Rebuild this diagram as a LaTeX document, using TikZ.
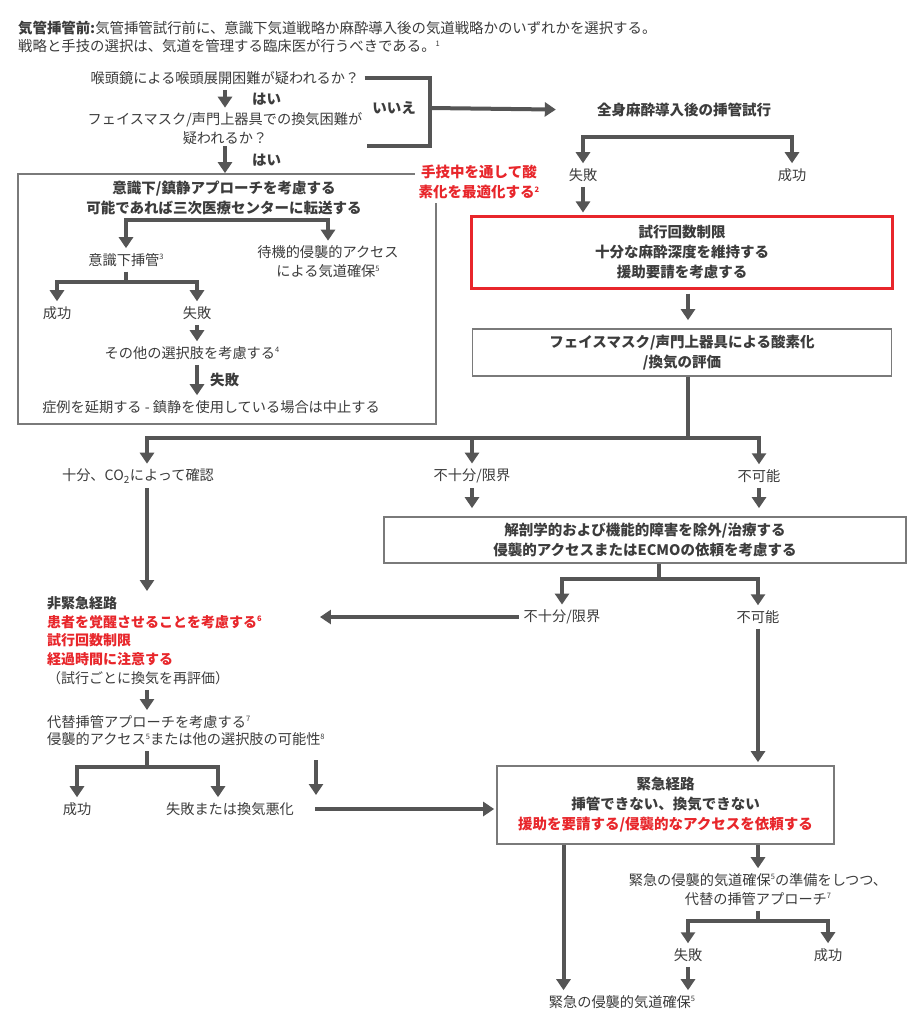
\documentclass[tikz,border=0pt]{standalone}
\usepackage{fontspec}
\setmainfont{Noto Sans CJK JP}
\usetikzlibrary{arrows.meta,positioning}
\definecolor{ink}{HTML}{3C3C3C}
\definecolor{wirecol}{HTML}{555555}
\definecolor{framecol}{HTML}{7A7A7A}
\definecolor{alert}{HTML}{E8262B}
\newcommand{\refno}[1]{\raisebox{5.5pt}{\fontsize{7.5}{8}\selectfont#1}}

\begin{document}
\begin{tikzpicture}[
        x=1pt, y=1pt,
        txt/.style={font=\fontsize{14.2}{19}\selectfont, text=ink, inner xsep=5pt, inner ysep=5pt, align=center},
        btxt/.style={txt, font=\fontsize{14.5}{20}\selectfont\bfseries},
        lbl/.style={btxt, inner sep=0pt},
        box/.style={draw=framecol, line width=1.7pt},
        wire/.style={draw=wirecol, line width=4pt},
        arr/.style={wire, -{Triangle[width=14pt,length=11pt]}},
    ]
        \fill[white] (0,0) rectangle (922,-1024);
        \useasboundingbox (0,0) rectangle (922,-1024);

        \node[txt, anchor=north west, align=left, font=\fontsize{14.4}{18}\selectfont] (hdr) at (13,-16)
            {\textbf{気管挿管前:}気管挿管試行前に、意識下気道戦略か麻酔導入後の気道戦略かのいずれかを選択する。\\戦略と手技の選択は、気道を管理する臨床医が行うべきである。\refno{1}};

        \node[txt] (q1) at (225,-78) {喉頭鏡による喉頭展開困難が疑われるか？};
        \node[txt] (q2) at (225,-129) {フェイスマスク/声門上器具での換気困難が\\疑われるか？};
        \node[btxt] (ga) at (684,-110) {全身麻酔導入後の挿管試行};
        \node[btxt] (no) at (394,-108) {いいえ};
        \coordinate (brk) at (430,-108);

        \node[box, minimum width=418pt, minimum height=250pt] (awbox) at (227,-299) {};
        \node[btxt, text=alert, fill=white, inner sep=4pt] (opt) at (479,-182) {手技中を通して酸\\素化を最適化する\refno{2}};
        \node[btxt] (aw) at (224,-198) {意識下/鎮静アプローチを考慮する\\可能であれば三次医療センターに転送する};
        \node[txt] (ai) at (126,-260) {意識下挿管\refno{3}};
        \node[txt] (wi) at (328,-262) {待機的侵襲的アクセス\\による気道確保\refno{5}};
        \node[txt] (s1) at (57,-313) {成功};
        \node[txt] (f1) at (197,-313) {失敗};
        \node[txt] (oo) at (192,-353) {その他の選択肢を考慮する\refno{4}};
        \node[txt] (pp) at (211,-407) {症例を延期する - 鎮静を使用している場合は中止する};

        \node[txt] (fa) at (583,-175) {失敗};
        \node[txt] (su) at (792,-175) {成功};
        \node[box, btxt, draw=alert, line width=3pt, minimum width=421pt, minimum height=71pt] (rb) at (682,-252.5)
            {試行回数制限\\十分な麻酔深度を維持する\\援助要請を考慮する};
        \node[box, btxt, minimum width=419pt, minimum height=47pt] (ev) at (682,-352.5)
            {フェイスマスク/声門上器具による酸素化\\/換気の評価};

        \coordinate (colL) at (147,0);
        \node[txt] (ad) at (138,-476) {十分、CO\textsubscript{2}によって確認};
        \node[txt] (ins) at (472,-476) {不十分/限界};
        \node[txt] (imp) at (759,-476) {不可能};
        \node[box, btxt, minimum width=522pt, minimum height=46pt] (ab) at (645,-540)
            {解剖学的および機能的障害を除外/治療する\\侵襲的アクセスまたはECMOの依頼を考慮する};
        \node[txt] (ins2) at (562,-617) {不十分/限界};
        \node[txt] (imp2) at (758,-617) {不可能};

        \node[txt, anchor=north west, align=left, font=\fontsize{14}{18.75}\selectfont] (ne) at (42,-591)
            {\textbf{非緊急経路}\\
             \textcolor{alert}{\textbf{患者を覚醒させることを考慮する\refno{6}}}\\
             \textcolor{alert}{\textbf{試行回数制限}}\\
             \textcolor{alert}{\textbf{経過時間に注意する}}\\
             （試行ごとに換気を再評価）};
        \node[txt, anchor=north west, align=left, font=\fontsize{14.2}{17.5}\selectfont] (alt) at (42,-710)
            {代替挿管アプローチを考慮する\refno{7}\\侵襲的アクセス\refno{5}または他の選択肢の可能性\refno{8}};
        \node[txt] (s2) at (77,-809) {成功};
        \node[txt] (f2) at (230,-809) {失敗または換気悪化};
        \coordinate (lnA) at (316,-760);
        \coordinate (lnB) at (316,-795);

        \node[box, btxt, minimum width=337pt, minimum height=78pt] (em) at (665.5,-805)
            {緊急経路\\挿管できない、換気できない\\\textcolor{alert}{援助を要請する/侵襲的なアクセスを依頼する}};
        \node[txt] (prep) at (758,-889.5) {緊急の侵襲的気道確保\refno{5}の準備をしつつ、\\代替の挿管アプローチ\refno{7}};
        \node[txt] (f3) at (688,-955) {失敗};
        \node[txt] (s3) at (828,-955) {成功};
        \node[txt] (eia) at (622,-1002) {緊急の侵襲的気道確保\refno{5}};

        \draw[wire] (q1.east) -| (brk);
        \draw[wire] ([yshift=4pt]q2.south east) -| (brk);
        \draw[arr, shorten >=36pt] (brk) -- (ga.west);
        \draw[arr] (q1.south) -- (q2.north) node[midway, lbl, right=25pt] {はい};
        \draw[arr] ([yshift=4pt]q2.south) -- (q2.south |- awbox.north) node[midway, lbl, right=25pt] {はい};

        \draw[arr] (aw.south) -| (ai.north);
        \draw[arr] (aw.south) -| (wi.north);
        \draw[arr] (ai.south) -- ++(0,-10) -| (s1.north);
        \draw[arr] (ai.south) -- ++(0,-10) -| (f1.north);
        \draw[arr] (f1.south) -- (f1.south |- oo.north);
        \draw[arr] (f1.south |- oo.south) -- (f1.south |- pp.north) node[midway, lbl, right=11pt] {失敗};

        \draw[arr] ([yshift=-15pt]ga.south) -| (fa.north);
        \draw[arr] ([yshift=-15pt]ga.south) -| (su.north);
        \draw[arr, shorten >=3pt] (fa.south) -- (fa.south |- rb.north);
        \draw[arr, shorten <=4pt, shorten >=8pt] ([xshift=6pt]rb.south) -- ([xshift=6pt]ev.north);

        \draw[arr] ([xshift=6pt]ev.south) -- ++(0,-61) -| (colL |- ad.north);
        \draw[arr] ([xshift=6pt]ev.south) -- ++(0,-61) -| (ins.north);
        \draw[arr] ([xshift=6pt]ev.south) -- ++(0,-61) -| (imp.north);
        \draw[arr, shorten >=8pt] (ins.south) -- (ins.south |- ab.north);
        \draw[arr, shorten >=8pt] (imp.south) -- (imp.south |- ab.north);
        \draw[arr] ([xshift=14pt]ab.south) -- ++(0,-15) -| (ins2.north);
        \draw[arr] ([xshift=14pt]ab.south) -- ++(0,-15) -| (imp2.north);
        \draw[arr, shorten >=53pt] (ins2.west) -- (ins2.west -| ne.east);
        \draw[arr, shorten >=3pt] (imp2.south) -- (imp2.south |- em.north);

        \draw[arr] (colL |- ad.south) -- (colL |- ne.north);
        \draw[arr] (colL |- ne.south) -- (colL |- alt.north);
        \draw[arr] (colL |- alt.south) -- ++(0,-16) -| (s2.north);
        \draw[arr] (colL |- alt.south) -- ++(0,-16) -| ([xshift=-12pt]f2.north);
        \draw[arr] (lnA) -- (lnB);
        \draw[arr, shorten <=16pt, shorten >=2pt] (f2.east) -- (f2.east -| em.west);

        \draw[arr] ([xshift=-102pt]em.south) -- ([xshift=-102pt]em.south |- eia.north);
        \draw[arr] (prep.north |- em.south) -- (prep.north);
        \draw[arr] (prep.south) -- ++(0,-10) -| (f3.north);
        \draw[arr] (prep.south) -- ++(0,-10) -| (s3.north);
        \draw[arr] (f3.south) -- (f3.south |- eia.north);
    \end{tikzpicture}
\end{document}
